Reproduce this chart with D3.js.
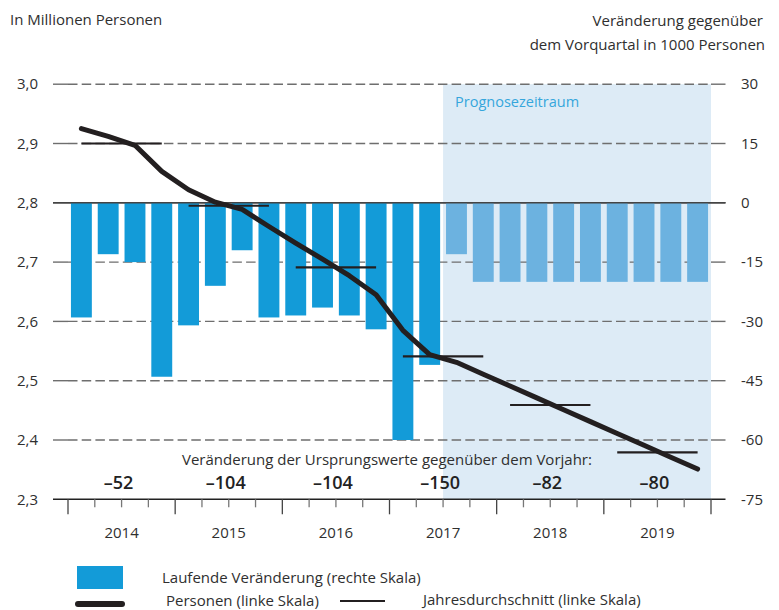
<!DOCTYPE html>
<html lang="de">
<head>
<meta charset="utf-8">
<script src="https://cdn.jsdelivr.net/npm/d3@7"></script>
<style>
  html, body { margin: 0; padding: 0; background: #fff; }
  svg { display: block; font-family: "Open Sans", "Noto Sans", sans-serif; }
</style>
</head>
<body>
<svg id="chart" width="779" height="610"></svg>
<script>
// Quarterly series 2014 Q1 – 2019 Q4
const years = ["2014", "2015", "2016", "2017", "2018", "2019"];
const quarterLabels = ["Q1", "Q2", "Q3", "Q4"];
// change versus previous quarter, in 1000 persons (right axis)
const quarterlyChange = [-29, -13, -15, -44, -31, -21, -12, -29, -28.5, -26.5, -28.5, -32,
                         -60, -41, -13, -20, -20, -20, -20, -20, -20, -20, -20, -20];
// persons in millions (left axis)
const persons = [2.925, 2.912, 2.897, 2.853, 2.822, 2.801, 2.789, 2.760, 2.732, 2.705, 2.677, 2.645,
                 2.585, 2.544, 2.531, 2.511, 2.491, 2.471, 2.451, 2.431, 2.411, 2.391, 2.371, 2.351];
// annual average, in millions (left axis)
const annualAverage = [2.900, 2.795, 2.691, 2.541, 2.459, 2.379];
// change of the original values versus previous year, in 1000 persons
const annualChange = [-52, -104, -104, -150, -82, -80];
const forecastStart = "2017 Q3";
const leftTicks = [2.3, 2.4, 2.5, 2.6, 2.7, 2.8, 2.9, 3.0];
const rightTicks = [30, 15, 0, -15, -30, -45, -60, -75];

const quarters = years.flatMap(y => quarterLabels.map(q => `${y} ${q}`));

const svg = d3.select("#chart");
const textColor = "#2f2f2f";
const gridColor = "#6e6e6e";

const plotL = 53, plotR = 725.5;
const innerL = 68, innerR = 711;
const plotTop = 84.2, plotBottom = 499.3;

const xBand = d3.scaleBand().domain(quarters).range([innerL, innerR])
  .paddingInner(0.22).paddingOuter(0.11);
const xEdge = d3.scaleLinear().domain([0, quarters.length]).range([innerL, innerR]);
const yLeft = d3.scaleLinear().domain([2.3, 3.0]).range([plotBottom, plotTop]);
const yRight = d3.scaleLinear().domain([-75, 30]).range([plotBottom, plotTop]);

const cx = q => xBand(q) + xBand.bandwidth() / 2;

// forecast period background
const fIdx = quarters.indexOf(forecastStart);
svg.append("rect")
  .attr("x", xEdge(fIdx)).attr("y", plotTop)
  .attr("width", xEdge(quarters.length) - xEdge(fIdx))
  .attr("height", plotBottom - plotTop)
  .attr("fill", "#ddebf6");

svg.append("text")
  .attr("x", xEdge(fIdx) + 12).attr("y", 107)
  .attr("fill", "#35a6dc").attr("font-size", 14.5)
  .text("Prognosezeitraum");

// horizontal grid
const grid = svg.append("g");
leftTicks.forEach(v => {
  const y = yLeft(v);
  if (v === 2.8 || v === 2.3) {
    grid.append("line").attr("x1", plotL).attr("x2", plotR).attr("y1", y).attr("y2", y)
      .attr("stroke", v === 2.3 ? "#222" : "#444").attr("stroke-width", 1.4);
  } else {
    grid.append("line").attr("x1", innerL).attr("x2", innerR).attr("y1", y).attr("y2", y)
      .attr("stroke", gridColor).attr("stroke-width", 1.4).attr("stroke-dasharray", "9.5,4.2");
    grid.append("line").attr("x1", plotL).attr("x2", innerL).attr("y1", y).attr("y2", y)
      .attr("stroke", gridColor).attr("stroke-width", 1.4);
    grid.append("line").attr("x1", innerR).attr("x2", plotR).attr("y1", y).attr("y2", y)
      .attr("stroke", gridColor).attr("stroke-width", 1.4);
  }
});

// x axis quarter and year ticks
d3.range(quarters.length + 1).forEach(i => {
  const isYear = i % 4 === 0;
  svg.append("line")
    .attr("x1", xEdge(i)).attr("x2", xEdge(i))
    .attr("y1", plotBottom).attr("y2", plotBottom + (isYear ? 15 : 8))
    .attr("stroke", isYear ? "#444" : "#777").attr("stroke-width", 1.3);
});

// bars
svg.append("g").selectAll("rect").data(quarters).join("rect")
  .attr("x", q => xBand(q))
  .attr("width", xBand.bandwidth())
  .attr("y", (q, i) => yRight(Math.max(0, quarterlyChange[i])))
  .attr("height", (q, i) => Math.abs(yRight(quarterlyChange[i]) - yRight(0)))
  .attr("fill", (q, i) => i >= fIdx ? "#6cb2e0" : "#139bd8");

// zero line on top of bars
svg.append("line").attr("x1", plotL).attr("x2", plotR)
  .attr("y1", yRight(0)).attr("y2", yRight(0))
  .attr("stroke", "#444").attr("stroke-width", 1.4);

// annual averages
svg.append("g").selectAll("line").data(years).join("line")
  .attr("x1", (y, i) => cx(quarters[i * 4]))
  .attr("x2", (y, i) => cx(quarters[i * 4 + 3]))
  .attr("y1", (y, i) => yLeft(annualAverage[i]))
  .attr("y2", (y, i) => yLeft(annualAverage[i]))
  .attr("stroke", "#231f20").attr("stroke-width", 2.2);

// persons line
svg.append("path")
  .datum(persons)
  .attr("d", d3.line().x((d, i) => cx(quarters[i])).y(d => yLeft(d)))
  .attr("fill", "none").attr("stroke", "#231f20").attr("stroke-width", 5)
  .attr("stroke-linecap", "round").attr("stroke-linejoin", "round");

// axis labels
const fmtLeft = d3.format(".1f");
svg.append("g").selectAll("text").data(leftTicks).join("text")
  .attr("x", 38).attr("y", d => yLeft(d)).attr("dy", "0.35em")
  .attr("text-anchor", "end").attr("fill", textColor).attr("font-size", 15)
  .text(d => fmtLeft(d).replace(".", ","));

svg.append("g").selectAll("text").data(rightTicks).join("text")
  .attr("x", 741).attr("y", d => yRight(d)).attr("dy", "0.35em")
  .attr("fill", textColor).attr("font-size", 15)
  .text(d => String(d));

const yearCenter = i => (xEdge(i * 4) + xEdge(i * 4 + 4)) / 2;
svg.append("g").selectAll("text").data(years).join("text")
  .attr("x", (d, i) => yearCenter(i)).attr("y", 538)
  .attr("text-anchor", "middle").attr("fill", textColor).attr("font-size", 15)
  .text(d => d);

// annual change of original values
svg.append("text").attr("x", 182).attr("y", 465)
  .attr("fill", textColor).attr("font-size", 15)
  .text("Veränderung der Ursprungswerte gegenüber dem Vorjahr:");

svg.append("g").selectAll("text").data(annualChange).join("text")
  .attr("x", (d, i) => yearCenter(i) - 3).attr("y", 489)
  .attr("text-anchor", "middle").attr("fill", "#222")
  .attr("font-size", 18).attr("font-weight", 600)
  .text(d => "\u2013" + Math.abs(d));

// axis titles
svg.append("text").attr("x", 10).attr("y", 25)
  .attr("fill", textColor).attr("font-size", 15).text("In Millionen Personen");
svg.append("text").attr("x", 763).attr("y", 26).attr("text-anchor", "end")
  .attr("fill", textColor).attr("font-size", 15).text("Veränderung gegenüber");
svg.append("text").attr("x", 765).attr("y", 50).attr("text-anchor", "end")
  .attr("fill", textColor).attr("font-size", 15).text("dem Vorquartal in 1000 Personen");

// legend
const lg = svg.append("g");
lg.append("rect").attr("x", 77).attr("y", 566).attr("width", 46).attr("height", 23).attr("fill", "#139bd8");
lg.append("text").attr("x", 162).attr("y", 583).attr("fill", textColor).attr("font-size", 15)
  .text("Laufende Veränderung (rechte Skala)");
lg.append("line").attr("x1", 78).attr("x2", 122).attr("y1", 604).attr("y2", 604)
  .attr("stroke", "#231f20").attr("stroke-width", 6).attr("stroke-linecap", "round");
lg.append("text").attr("x", 166).attr("y", 606).attr("fill", textColor).attr("font-size", 15)
  .text("Personen (linke Skala)");
lg.append("line").attr("x1", 340).attr("x2", 385).attr("y1", 601).attr("y2", 601)
  .attr("stroke", "#231f20").attr("stroke-width", 2.2);
lg.append("text").attr("x", 423).attr("y", 605).attr("fill", textColor).attr("font-size", 15)
  .text("Jahresdurchschnitt (linke Skala)");
</script>
</body>
</html>
